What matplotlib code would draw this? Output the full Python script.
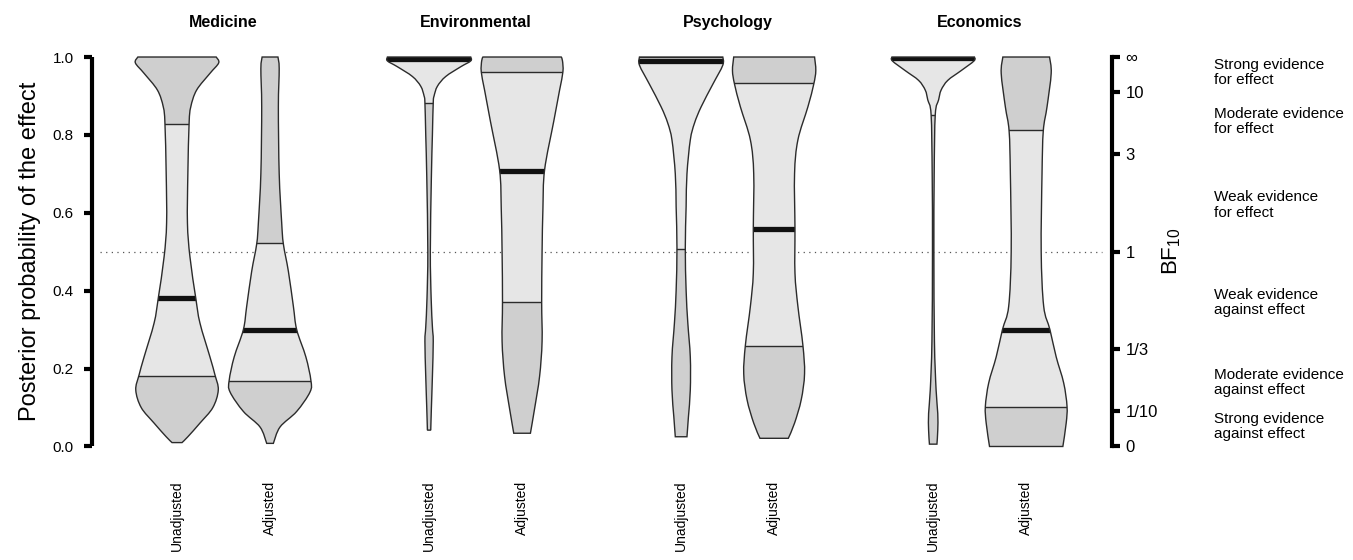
import numpy as np
import matplotlib
matplotlib.use("Agg")
import matplotlib.pyplot as plt
from matplotlib.path import Path
from matplotlib.patches import PathPatch, Rectangle

plt.rcParams['font.family'] = ['Liberation Sans', 'DejaVu Sans']

# field groups and the two conditions
fields = ["Medicine", "Environmental", "Psychology", "Economics"]
conditions = ["Unadjusted", "Adjusted"]

# violin outlines: posterior probability levels and relative density (1 = widest)
med_u_y = [0.01, 0.025, 0.06, 0.10, 0.145, 0.184, 0.23, 0.317, 0.381, 0.487, 0.574, 0.70, 0.83, 0.872, 0.915, 0.958, 0.985, 1.0]
med_u_d = [0.12, 0.26, 0.55, 0.86, 0.99, 0.91, 0.79, 0.55, 0.45, 0.31, 0.25, 0.26, 0.29, 0.33, 0.47, 0.79, 1.0, 0.94]
med_a_y = [0.008, 0.05, 0.09, 0.14, 0.17, 0.23, 0.30, 0.36, 0.45, 0.52, 0.574, 0.70, 0.872, 0.97, 1.0]
med_a_d = [0.08, 0.24, 0.64, 0.96, 0.98, 0.86, 0.64, 0.56, 0.44, 0.32, 0.28, 0.22, 0.20, 0.22, 0.19]
env_u_y = [0.042, 0.097, 0.18, 0.27, 0.307, 0.38, 0.5, 0.69, 0.80, 0.883, 0.9, 0.925, 0.95, 0.975, 0.99, 1.0]
env_u_d = [0.04, 0.055, 0.08, 0.10, 0.08, 0.05, 0.03, 0.055, 0.08, 0.10, 0.12, 0.20, 0.40, 0.76, 1.0, 1.0]
env_a_y = [0.034, 0.097, 0.18, 0.27, 0.37, 0.5, 0.61, 0.71, 0.835, 0.915, 0.962, 0.99, 1.0]
env_a_d = [0.20, 0.30, 0.42, 0.48, 0.47, 0.48, 0.50, 0.54, 0.76, 0.90, 0.98, 0.97, 0.94]
psy_u_y = [0.025, 0.076, 0.145, 0.23, 0.318, 0.40, 0.51, 0.616, 0.70, 0.787, 0.83, 0.872, 0.93, 0.979, 1.0]
psy_u_d = [0.14, 0.175, 0.22, 0.22, 0.16, 0.12, 0.10, 0.12, 0.14, 0.22, 0.32, 0.48, 0.76, 1.0, 1.0]
psy_a_y = [0.021, 0.06, 0.12, 0.187, 0.26, 0.36, 0.445, 0.56, 0.70, 0.787, 0.872, 0.93, 0.965, 1.0]
psy_a_d = [0.34, 0.49, 0.65, 0.73, 0.69, 0.57, 0.50, 0.50, 0.49, 0.57, 0.81, 0.95, 1.0, 0.97]
eco_u_y = [0.006, 0.042, 0.085, 0.145, 0.27, 0.5, 0.70, 0.852, 0.89, 0.915, 0.94, 0.965, 0.99, 1.0]
eco_u_d = [0.09, 0.11, 0.11, 0.07, 0.03, 0.017, 0.024, 0.05, 0.13, 0.19, 0.35, 0.67, 0.98, 0.99]
eco_a_y = [0.0, 0.06, 0.103, 0.163, 0.23, 0.30, 0.36, 0.5, 0.70, 0.81, 0.872, 0.958, 1.0]
eco_a_d = [0.88, 0.96, 0.98, 0.90, 0.72, 0.57, 0.42, 0.36, 0.38, 0.41, 0.50, 0.60, 0.56]

# lower quartile, median, upper quartile for each violin
q1 = [0.182, 0.169, 0.881, 0.37, 0.507, 0.258, 0.851, 0.102]
medians = [0.38, 0.299, 0.995, 0.708, 0.99, 0.558, 0.997, 0.298]
q3 = [0.828, 0.523, 1.0, 0.962, 1.0, 0.932, 1.0, 0.812]

profiles = [(med_u_y, med_u_d), (med_a_y, med_a_d), (env_u_y, env_u_d), (env_a_y, env_a_d),
            (psy_u_y, psy_u_d), (psy_a_y, psy_a_d), (eco_u_y, eco_u_d), (eco_a_y, eco_a_d)]

# Bayes factor scale on the right
bf_labels = ["0", "1/10", "1/3", "1", "3", "10", "\u221e"]
bf_values = [0, 1 / 10, 1 / 3, 1, 3, 10, np.inf]
evidence = ["Strong evidence\nfor effect", "Moderate evidence\nfor effect", "Weak evidence\nfor effect",
            "Weak evidence\nagainst effect", "Moderate evidence\nagainst effect", "Strong evidence\nagainst effect"]
evidence_y = [0.96, 0.835, 0.62, 0.37, 0.165, 0.052]

LIGHT = "#e6e6e6"
DARK = "#cfcfcf"
EDGE = "#2b2b2b"
HALF = 0.448
group_pos = [0, 2.71, 5.42, 8.13]


def side_curve(pts):
    # catmull-rom through the read points, handed to matplotlib as bezier segments
    n = len(pts)
    verts, codes = [], []
    for i in range(n - 1):
        p0 = pts[max(i - 1, 0)]
        p1 = pts[i]
        p2 = pts[i + 1]
        p3 = pts[min(i + 2, n - 1)]
        verts += [p1 + (p2 - p0) / 6, p2 - (p3 - p1) / 6, p2]
        codes += [Path.CURVE4] * 3
    return verts, codes


def violin_path(x, ys, ds):
    ys = np.array(ys)
    w = np.array(ds) * HALF
    right = np.column_stack([x + w, ys])
    left = np.column_stack([x - w, ys])[::-1]
    verts = [right[0]]
    codes = [Path.MOVETO]
    v, c = side_curve(right)
    verts += v
    codes += c
    verts.append(left[0])
    codes.append(Path.LINETO)
    v, c = side_curve(left)
    verts += v
    codes += c
    verts.append(right[0])
    codes.append(Path.CLOSEPOLY)
    return Path(verts, codes)


fig = plt.figure(figsize=(13.53, 5.6), dpi=100)
ax = fig.add_axes([0.0678, 0.1888, 0.7539, 0.7233])
ax.set_xlim(-0.917, 10.05)
ax.set_ylim(-0.02, 1.02)

positions = []
for g in group_pos:
    positions += [g, g + 1]

ax.plot([-0.828, 9.946], [0.5, 0.5], color="#555555", lw=0.9, ls=(0, (1, 3.5)), zorder=1)

for i, (x, (ys, ds)) in enumerate(zip(positions, profiles)):
    path = violin_path(x, ys, ds)
    body = PathPatch(path, facecolor=LIGHT, edgecolor="none", zorder=2)
    ax.add_patch(body)
    lo = Rectangle((x - 1, -1), 2, 1 + q1[i], facecolor=DARK, edgecolor="none", zorder=3)
    hi = Rectangle((x - 1, q3[i]), 2, 2, facecolor=DARK, edgecolor="none", zorder=3)
    for r in (lo, hi):
        ax.add_patch(r)
        r.set_clip_path(body)
    for q in (q1[i], q3[i]):
        ln, = ax.plot([x - 1, x + 1], [q, q], color=EDGE, lw=1.0, zorder=4)
        ln.set_clip_path(body)
    ln, = ax.plot([x - 1, x + 1], [medians[i], medians[i]], color="#111111", lw=3.8,
                  solid_capstyle="butt", zorder=5)
    ln.set_clip_path(body)
    ax.add_patch(PathPatch(path, facecolor="none", edgecolor=EDGE, lw=1.0, zorder=6))

for g, name in zip(group_pos, fields):
    ax.text(g + 0.5, 1.065, name, ha="center", va="center", fontsize=11.5, fontweight="bold",
            transform=ax.get_xaxis_transform())

ax.set_xticks(positions)
ax.set_xticklabels(conditions * 4, rotation=90, fontsize=10)
ax.tick_params(axis="x", length=0, pad=19)

ax.set_yticks([0, 0.2, 0.4, 0.6, 0.8, 1.0])
ax.set_yticklabels(["0.0", "0.2", "0.4", "0.6", "0.8", "1.0"], fontsize=11)
ax.tick_params(axis="y", length=6, width=3, pad=7, color="black")
ax.set_ylabel("Posterior probability of the effect", fontsize=17, labelpad=8)

for s in ["top", "bottom"]:
    ax.spines[s].set_visible(False)
ax.spines["right"].set_visible(False)
ax.spines["left"].set_linewidth(3)
ax.spines["left"].set_bounds(0, 1)
ax.spines["left"].set_capstyle("butt")

ax2 = ax.twinx()
ax2.set_ylim(ax.get_ylim())
probs = [b / (1 + b) if np.isfinite(b) else 1.0 for b in bf_values]
ax2.set_yticks(probs)
ax2.set_yticklabels(bf_labels, fontsize=12)
ax2.tick_params(axis="y", length=6, width=3, pad=4)
for s in ["top", "bottom", "left"]:
    ax2.spines[s].set_visible(False)
ax2.spines["right"].set_linewidth(3)
ax2.spines["right"].set_bounds(0, 1)
ax2.set_ylabel(r"$\mathregular{BF_{10}}$", fontsize=16, labelpad=2)

for ytxt, txt in zip(evidence_y, evidence):
    ax2.text(1.1, ytxt, txt, ha="left", va="center", fontsize=11, linespacing=1.1,
             transform=ax2.get_yaxis_transform())

fig.savefig("out.png", dpi=100)
